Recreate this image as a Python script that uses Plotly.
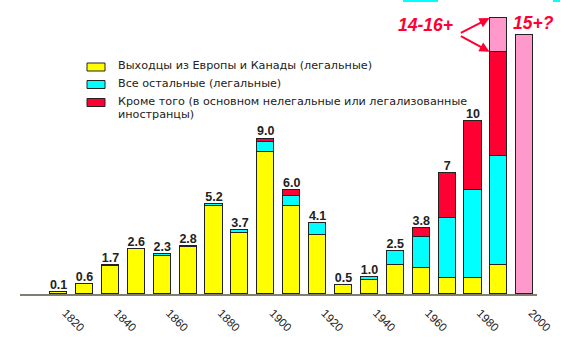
import plotly.graph_objects as go

# ---- data (millions of immigrants per decade) ----
decades = [1820, 1830, 1840, 1850, 1860, 1870, 1880, 1890, 1900, 1910,
           1920, 1930, 1940, 1950, 1960, 1970, 1980, 1990, 2000]
europe_canada = [0.1, 0.6, 1.6, 2.6, 2.2, 2.7, 5.1, 3.55, 8.2, 5.1,
                 3.4, 0.5, 0.8, 1.7, 1.5, 0.9, 0.9, 1.7, None]
other_legal = [None, None, 0.1, None, 0.1, 0.1, 0.1, 0.15, 0.6, 0.6,
               0.7, None, 0.2, 0.8, 1.8, 3.5, 5.1, 6.3, None]
illegal = [None, None, None, None, None, None, None, None, 0.2, 0.3,
           None, None, None, None, 0.5, 2.6, 4.0, 6.0, None]
estimate = [None] * 17 + [2.0, 15.0]
value_labels = ["0.1", "0.6", "1.7", "2.6", "2.3", "2.8", "5.2", "3.7", "9.0", "6.0",
                "4.1", "0.5", "1.0", "2.5", "3.8", "7", "10"]
estimate_labels = ["14-16+", "15+?"]
tick_years = [1820, 1840, 1860, 1880, 1900, 1920, 1940, 1960, 1980, 2000]
tick_labels = [str(y) for y in tick_years]
series_names = [
    "Выходцы из Европы и Канады (легальные)",
    "Все остальные (легальные)",
    "Кроме того (в основном нелегальные или легализованные",
]
series_name_cont = "иностранцы)"

YELLOW = "#FFFF00"
CYAN = "#00FFFF"
RED = "#FF0033"
PINK = "#FF99CC"
OUTLINE = "#222222"
BAR_W = 6.6

# figure geometry (pixels)
W, H = 570, 349
ML, MR, MT, MB = 20, 33, 9, 55
PW, PH = W - ML - MR, H - MT - MB
BASE = H - MB


def px(x):
    return (x - ML) / PW


def py(y):
    return (BASE - y) / PH


def v(x):
    return x or 0.0


fig = go.Figure()
for name, vals, col in zip(series_names, [europe_canada, other_legal, illegal],
                           [YELLOW, CYAN, RED]):
    fig.add_trace(go.Bar(x=decades, y=vals, name=name, width=BAR_W, showlegend=False,
                         marker=dict(color=col, line=dict(color=OUTLINE, width=1)),
                         hoverinfo="skip"))
fig.add_trace(go.Bar(x=decades, y=estimate, name="estimate", width=BAR_W, showlegend=False,
                     marker=dict(color=PINK, line=dict(color=OUTLINE, width=1)),
                     hoverinfo="skip"))

totals = [v(a) + v(b) + v(c) for a, b, c in zip(europe_canada, other_legal, illegal)]
n = len(value_labels)
fig.add_trace(go.Scatter(x=decades[:n], y=totals[:n], text=value_labels, mode="text",
                         textposition="top center", showlegend=False, hoverinfo="skip",
                         textfont=dict(family="Liberation Sans, Arial", size=12.5,
                                       color="#222222", weight="bold")))

# estimate annotations
i90 = decades.index(1990)
i00 = decades.index(2000)
top90 = totals[i90] + v(estimate[i90])
base90 = totals[i90]
red_font = dict(family="Liberation Sans, Arial", size=17.5, color=RED,
                weight="bold", style="italic")
fig.add_annotation(x=decades[i90], y=top90, text=estimate_labels[0], showarrow=False,
                   xanchor="right", yanchor="middle", xshift=-44, yshift=-7, font=red_font)
fig.add_annotation(x=decades[i00], y=v(estimate[i00]), text=estimate_labels[1], showarrow=False,
                   xanchor="center", yanchor="middle", xshift=9, yshift=12, font=red_font)
for yy, ayy in [(top90, 16), (base90, -17)]:
    fig.add_annotation(x=decades[i90] - BAR_W / 2, y=yy, text="", showarrow=True,
                       ax=-31, ay=ayy, arrowcolor=RED, arrowwidth=2, arrowhead=2,
                       arrowsize=1, standoff=1)

# hand-drawn legend (box 18x8 px, as on the slide)
leg_font = dict(family="DejaVu Sans", size=11.2, color="#222222")
box_x0, box_x1, text_x = 87, 105, 116
row_y = [67, 84.5, 102.5]
for name, col, yc in zip(series_names, [YELLOW, CYAN, RED], row_y):
    fig.add_shape(type="rect", xref="paper", yref="paper",
                  x0=px(box_x0), x1=px(box_x1), y0=py(yc + 4), y1=py(yc - 4),
                  fillcolor=col, line=dict(color=OUTLINE, width=1))
    fig.add_annotation(xref="paper", yref="paper", x=px(text_x), y=py(yc - 1),
                       text=name, showarrow=False, xanchor="left", yanchor="middle",
                       font=leg_font)
fig.add_annotation(xref="paper", yref="paper", x=px(text_x), y=py(row_y[2] + 12),
                   text=series_name_cont, showarrow=False, xanchor="left",
                   yanchor="middle", font=leg_font)

# small cyan artefacts at the top of the slide
for x0, x1 in [(403, 438), (553, 560)]:
    fig.add_shape(type="rect", xref="paper", yref="paper", x0=px(x0), x1=px(x1),
                  y0=py(2), y1=py(0), fillcolor=CYAN, line=dict(width=0), layer="above")

fig.update_layout(
    width=W, height=H,
    margin=dict(l=ML, r=MR, t=MT, b=MB),
    barmode="stack",
    bargap=0,
    paper_bgcolor="white", plot_bgcolor="white",
    showlegend=False,
    xaxis=dict(range=[1805.1, 2004.7], showgrid=False, zeroline=False,
               showline=True, linecolor="#7f7f70", linewidth=2,
               tickmode="array", tickvals=tick_years, ticktext=tick_labels,
               tickangle=45, ticks="", ticklabelstandoff=6, ticklabelshift=7,
               tickfont=dict(family="Liberation Sans, Arial", size=11.5, color="#222222")),
    yaxis=dict(range=[0, 16.5], visible=False),
)

fig.write_html("out.html")
